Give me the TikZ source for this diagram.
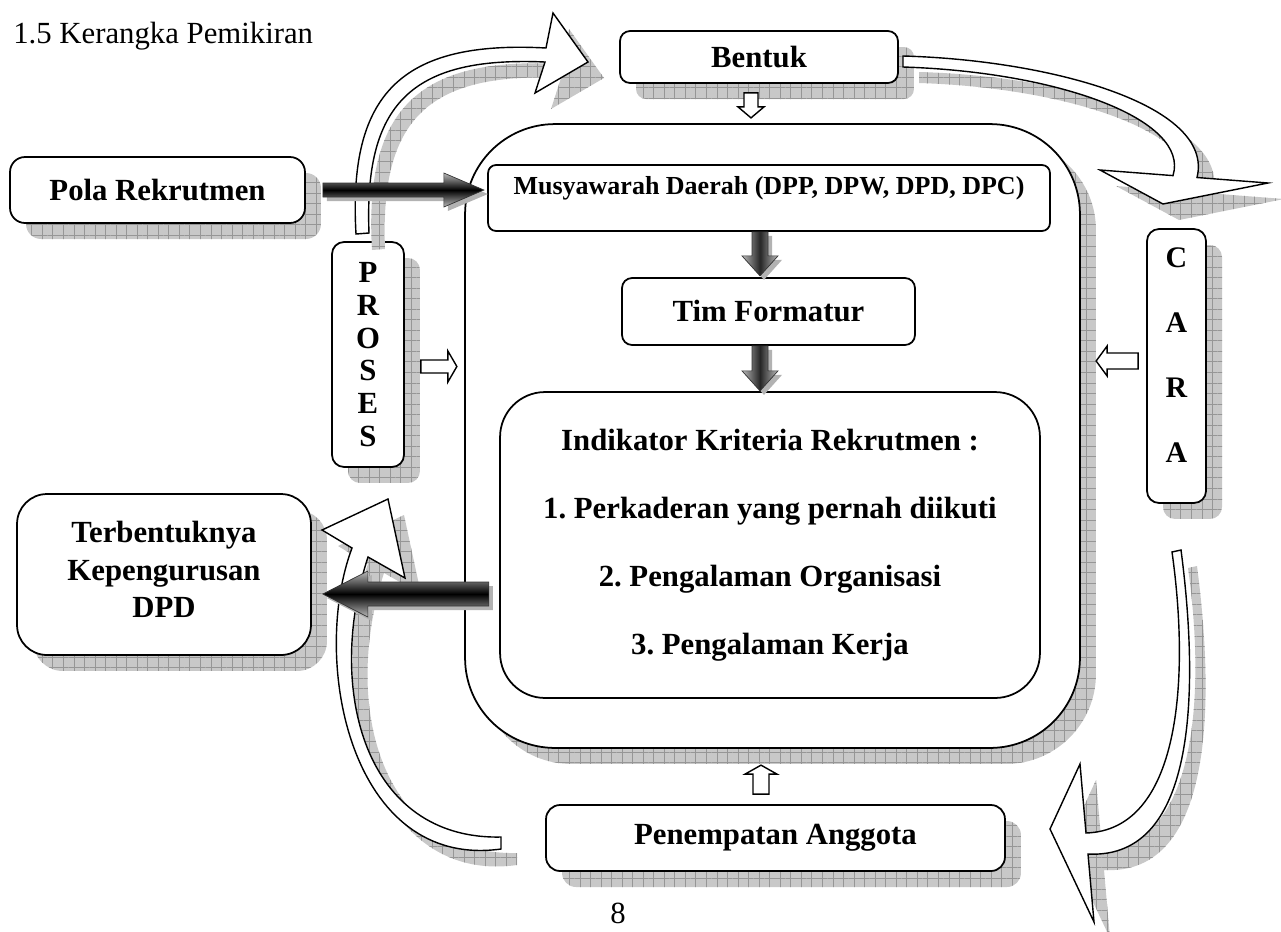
\documentclass[tikz,border=0pt]{standalone}
\usepackage{fontspec}
\setmainfont{Liberation Serif}
\usetikzlibrary{calc,patterns.meta}

\definecolor{shfill}{RGB}{200,200,200}
\definecolor{shline}{RGB}{150,150,150}

\tikzset{
  shadowed/.style={
    preaction={draw=none, fill=shfill, transform canvas={xshift=0.32cm, yshift=-0.32cm}},
    preaction={draw=none, pattern={Hatch[angle=0, distance=6pt, line width=0.3pt]},
      pattern color=shline, transform canvas={xshift=0.32cm, yshift=-0.32cm}}},
  box/.style={draw, fill=white, line width=1pt, rounded corners=#1, inner sep=0pt,
    align=center, font=\fontsize{17.5}{21}\selectfont\bfseries},
  box/.default=0.25cm,
  bigarrow/.style={draw, fill=white, line width=0.8pt, line join=miter},
  hollow/.style={draw, fill=white, line width=0.8pt},
  darkh/.style={draw=black!80, line width=0.4pt, top color=gray!55, bottom color=gray!55,
    middle color=black, preaction={fill=gray!60, transform canvas={xshift=0.08cm, yshift=-0.08cm}}},
  darkv/.style={draw=black!80, line width=0.4pt, left color=gray!55, right color=gray!55,
    middle color=black!85, preaction={fill=gray!60, transform canvas={xshift=0.08cm, yshift=-0.08cm}}},
}

\begin{document}
\frenchspacing
\begin{tikzpicture}[x=0.02cm, y=-0.02cm]
    \useasboundingbox (0,0) rectangle (1281,931);
    \clip (0,0) rectangle (1281,931);

    % judul dan nomor halaman
    \node[anchor=base west, inner sep=0pt, font=\fontsize{17.5}{21}\selectfont] (judul) at (13,43) {1.5 Kerangka Pemikiran};
    \node[anchor=south, inner sep=0pt, font=\fontsize{17.5}{21}\selectfont] (hal) at (618,924) {8};

    % kotak-kotak
    \node[box=0.2cm, shadowed, minimum width=5.56cm, minimum height=1.04cm] (bentuk) at (759,57) {Bentuk};
    \node[box=0.3cm, shadowed, minimum width=5.9cm, minimum height=1.32cm] (pola) at (157.5,190) {Pola Rekrutmen};
    \node[box=1.8cm, shadowed, minimum width=12.3cm, minimum height=12.48cm] (bingkai) at (772.5,436) {};
    \node[box=0.16cm, minimum width=11.24cm, minimum height=1.32cm,
      label={[font=\fontsize{14.8}{18}\selectfont\bfseries, yshift=0.2cm]center:Musyawarah Daerah (DPP, DPW, DPD, DPC)}] (musy) at (769,198) {};
    \node[box=0.2cm, minimum width=5.86cm, minimum height=1.34cm] (tim) at (768.5,311.5) {Tim Formatur};
    \node[box=0.9cm, minimum width=10.8cm, minimum height=6.12cm, font=\fontsize{17.5}{38.6}\selectfont\bfseries] (indik) at (770,545)
      {Indikator Kriteria Rekrutmen :\\1. Perkaderan yang pernah diikuti\\2. Pengalaman Organisasi\\3. Pengalaman Kerja};
    \node[box=0.24cm, shadowed, minimum width=1.44cm, minimum height=4.5cm, font=\fontsize{17.5}{18.7}\selectfont\bfseries] (proses) at (368,354.5) {P\\R\\O\\S\\E\\S};
    \node[box=0.24cm, shadowed, minimum width=1.18cm, minimum height=5.48cm,
      label={[font=\fontsize{17}{36.9}\selectfont\bfseries, align=center, yshift=0.22cm]center:C\\A\\R\\A}] (cara) at (1176.5,366) {};
    \node[box=0.6cm, shadowed, minimum width=5.88cm, minimum height=3.22cm,
      label={[font=\fontsize{17.5}{21.5}\selectfont\bfseries, align=center, yshift=0.1cm]center:Terbentuknya\\Kepengurusan\\DPD}] (terb) at (164,574.5) {};
    \node[box=0.28cm, shadowed, minimum width=9.18cm, minimum height=1.32cm] (pen) at (775.5,838) {Penempatan Anggota};

    % panah lengkung
    \draw[bigarrow, shadowed] (356,234) .. controls (348,95) and (400,40) .. (546,48)
      -- (553,13) -- (588,62) -- (535,93) -- (545,62)
      .. controls (410,56) and (364,105) .. (369,233) -- cycle;
    \draw[bigarrow, shadowed] (903,56) .. controls (1050,60) and (1215,105) .. (1197,177.5)
      -- (1268,183) -- (1163,204) -- (1100,170) -- (1173,175.6)
      .. controls (1190,120) and (1060,72) .. (903,67) -- cycle;
    \draw[bigarrow, shadowed] (1181,550) .. controls (1198,680) and (1200,860) .. (1088,854)
      -- (1094,922) -- (1050,829) -- (1080,764) -- (1086,833)
      .. controls (1180,830) and (1190,680) .. (1172,552) -- cycle;
    \draw[bigarrow, shadowed] (501,837) .. controls (365,840) and (325,690) .. (368,557)
      -- (405,578) -- (388,499) -- (322,530) -- (352,548)
      .. controls (310,660) and (350,870) .. (501,849) -- cycle;

    % panah gelap
    \draw[darkh] ($(pola.east)+(17,-7)$) -- ++(121,0) -- ++(0,-10) -- ++(40,17) -- ++(-40,17) -- ++(0,-10) -- ++(-121,0) -- cycle;
    \draw[darkv] ($(musy.south)+(-17,0)$) -- ++(16,0) -- ++(0,24) -- ++(10,0) -- ++(-18,20) -- ++(-18,-20) -- ++(10,0) -- cycle;
    \draw[darkv] ($(tim.south)+(-16.5,0)$) -- ++(16,0) -- ++(0,25) -- ++(10,0) -- ++(-18,20) -- ++(-18,-20) -- ++(10,0) -- cycle;
    \draw[darkh] ($(terb.east)+(11,19.5)$) -- ++(45,-23) -- ++(0,11) -- ++(121,0) -- ++(0,24) -- ++(-121,0) -- ++(0,11) -- cycle;

    % panah kecil
    \draw[hollow] ($(bentuk.south)+(-15,9)$) -- ++(14,0) -- ++(0,14) -- ++(6,0) -- ++(-13,11) -- ++(-13,-11) -- ++(6,0) -- cycle;
    \draw[hollow] ($(proses.east)+(16,5.5)$) -- ++(27,0) -- ++(0,-9) -- ++(9,15.5) -- ++(-9,15.5) -- ++(0,-9) -- ++(-27,0) -- cycle;
    \draw[hollow] ($(cara.west)+(-50,-5)$) -- ++(11,-15) -- ++(0,7) -- ++(31,0) -- ++(0,16) -- ++(-31,0) -- ++(0,7) -- cycle;
    \draw[hollow] ($(pen.north)+(-22.5,-10)$) -- ++(0,-20) -- ++(-8,0) -- ++(16,-9) -- ++(16,9) -- ++(-8,0) -- ++(0,20) -- cycle;

\end{tikzpicture}
\end{document}
